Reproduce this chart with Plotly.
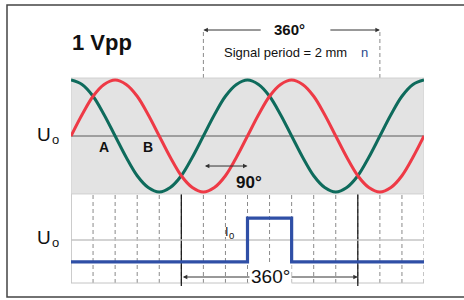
import plotly.graph_objects as go

# ---- data ----
deg = [i * 22.5 for i in range(33)]  # 0 .. 720 degrees
signal_a = [0, 0.38, 0.71, 0.92, 1, 0.92, 0.71, 0.38, 0, -0.38, -0.71, -0.92, -1, -0.92, -0.71, -0.38,
            0, 0.38, 0.71, 0.92, 1, 0.92, 0.71, 0.38, 0, -0.38, -0.71, -0.92, -1, -0.92, -0.71, -0.38, 0]
signal_b = [1, 0.92, 0.71, 0.38, 0, -0.38, -0.71, -0.92, -1, -0.92, -0.71, -0.38, 0, 0.38, 0.71, 0.92,
            1, 0.92, 0.71, 0.38, 0, -0.38, -0.71, -0.92, -1, -0.92, -0.71, -0.38, 0, 0.38, 0.71, 0.92, 1]
ref_x = [0, 360, 360, 450, 450, 720]
ref_y = [0.29, 0.29, 0.74, 0.74, 0.29, 0.29]
grid_deg = [45 * i for i in range(1, 17)]
ref_level = 0.515
period_start, period_end = 270, 630
cross1, cross2 = 225, 585

W, H = 464, 300
def px(x):
    return x / W
def py(y):
    return (H - y) / H

RED = "#ee3a46"
GREEN = "#0e6b5c"
BLUE = "#2f4fa6"
FONT = "Liberation Sans"

fig = go.Figure()
fig.add_trace(go.Scatter(x=deg, y=signal_b, mode="lines", line=dict(color=GREEN, width=3, shape="spline"),
                         xaxis="x", yaxis="y", hoverinfo="skip"))
fig.add_trace(go.Scatter(x=deg, y=signal_a, mode="lines", line=dict(color=RED, width=3, shape="spline"),
                         xaxis="x", yaxis="y", hoverinfo="skip"))
fig.add_trace(go.Scatter(x=ref_x, y=ref_y, mode="lines", line=dict(color=BLUE, width=3.2),
                         xaxis="x", yaxis="y2", hoverinfo="skip"))

shapes = []
# outer frame
shapes.append(dict(type="rect", xref="paper", yref="paper", x0=px(7), x1=1.02, y0=py(297), y1=py(5),
                   line=dict(color="#444", width=1.5), layer="below"))
# grey band
shapes.append(dict(type="rect", xref="x", yref="y", x0=0, x1=720, y0=-1.035, y1=1.035,
                   fillcolor="#e3e3e3", line=dict(color="#d0d0d0", width=1), layer="below"))
# midline
shapes.append(dict(type="line", xref="x", yref="y", x0=0, x1=720, y0=0, y1=0,
                   line=dict(color="#5a5a5a", width=1), layer="below"))
# vertical dashed grid
for g in grid_deg:
    shapes.append(dict(type="line", xref="x", yref="paper", x0=g, x1=g, y0=py(283), y1=py(78),
                       line=dict(color="#8a8a8a", width=1, dash="4px,3px"), layer="below"))
# left solid line
shapes.append(dict(type="line", xref="x", yref="paper", x0=0, x1=0, y0=py(283), y1=py(78),
                   line=dict(color="#999", width=1), layer="below"))
# bottom panel lines
shapes.append(dict(type="line", xref="x", yref="y2", x0=0, x1=720, y0=ref_level, y1=ref_level,
                   line=dict(color="#c4c4c4", width=1.5), layer="below"))
shapes.append(dict(type="line", xref="x", yref="paper", x0=0, x1=720, y0=py(283), y1=py(283),
                   line=dict(color="#c4c4c4", width=1), layer="below"))
# dashed extensions to top arrow
for g in (period_start, period_end):
    shapes.append(dict(type="line", xref="x", yref="paper", x0=g, x1=g, y0=py(78), y1=py(30),
                       line=dict(color="#8a8a8a", width=1, dash="4px,3px"), layer="below"))
# black lines at crossings
shapes.append(dict(type="line", xref="x", yref="paper", x0=cross1, x1=cross1, y0=py(286), y1=py(176),
                   line=dict(color="#111", width=1.2), layer="below"))
shapes.append(dict(type="line", xref="x", yref="paper", x0=cross2, x1=cross2, y0=py(286), y1=py(186),
                   line=dict(color="#111", width=1.2), layer="below"))

ann = []
def arrow_paper(x_head, x_tail, y):
    ann.append(dict(x=x_head, y=y, xref="x", yref="paper", ax=x_tail, ay=0, axref="x", ayref="pixel",
                    text="", showarrow=True, arrowhead=2, arrowsize=0.9, arrowwidth=1, arrowcolor="#333"))

# top arrow (interrupted by label)
arrow_paper(period_start, 390, py(30))
arrow_paper(period_end, 526, py(30))
# 90 degree arrow
ann.append(dict(x=360, y=-0.536, xref="x", yref="y", ax=270, ay=-0.536, axref="x", ayref="y",
                text="", showarrow=True, arrowhead=2, arrowside="end+start", arrowsize=0.9,
                arrowwidth=1, arrowcolor="#333"))
# bottom arrow
ann.append(dict(x=cross2, y=0.134, xref="x", yref="y2", ax=cross1, ay=0.134, axref="x", ayref="y2",
                text="", showarrow=True, arrowhead=2, arrowside="end+start", arrowsize=0.9,
                arrowwidth=1, arrowcolor="#333"))

def label(text, cx, cy, size, bold=False, color="#111", bg=None, xanchor="center"):
    d = dict(x=px(cx), y=py(cy), xref="paper", yref="paper", text=f"<b>{text}</b>" if bold else text,
             showarrow=False, xanchor=xanchor, yanchor="middle",
             font=dict(family=FONT, size=size, color=color))
    if bg:
        d["bgcolor"] = bg
        d["borderpad"] = 1
    ann.append(d)

label("1 Vpp", 101.5, 42, 22, bold=True)
label("360°", 289, 29, 15, bold=True)
label("Signal period = 2 mm", 222, 52, 13, xanchor="left")
label("n", 364, 53, 13, color="#2a4a8c")
# U_o labels (letter + subscript)
label("U", 43.5, 134, 19)
label("o", 55, 139.5, 13)
label("U", 44, 237, 19)
label("o", 55, 242, 13)
label("A", 104, 147, 14, bold=True)
label("B", 148, 147, 14, bold=True)
label("90°", 249, 182, 17, bold=True)
label("I", 226.5, 232, 12.5)
label("0", 231, 235.5, 9.5)
label("360°", 270, 276, 19, bg="white")

fig.update_layout(
    width=W, height=H, margin=dict(l=0, r=0, t=0, b=0),
    paper_bgcolor="white", plot_bgcolor="rgba(0,0,0,0)", showlegend=False,
    xaxis=dict(domain=[px(71), px(424)], range=[0, 720], visible=False, anchor="y", fixedrange=True),
    yaxis=dict(domain=[py(197.6), py(74.4)], range=[-1.1, 1.1], visible=False, anchor="x", fixedrange=True),
    yaxis2=dict(domain=[py(290), py(193)], range=[0, 1], visible=False, anchor="x", fixedrange=True),
    shapes=shapes, annotations=ann,
)

fig.write_html("out.html", config={"displayModeBar": False},
               post_script="document.body.style.margin='0';document.body.style.overflow='hidden';")
